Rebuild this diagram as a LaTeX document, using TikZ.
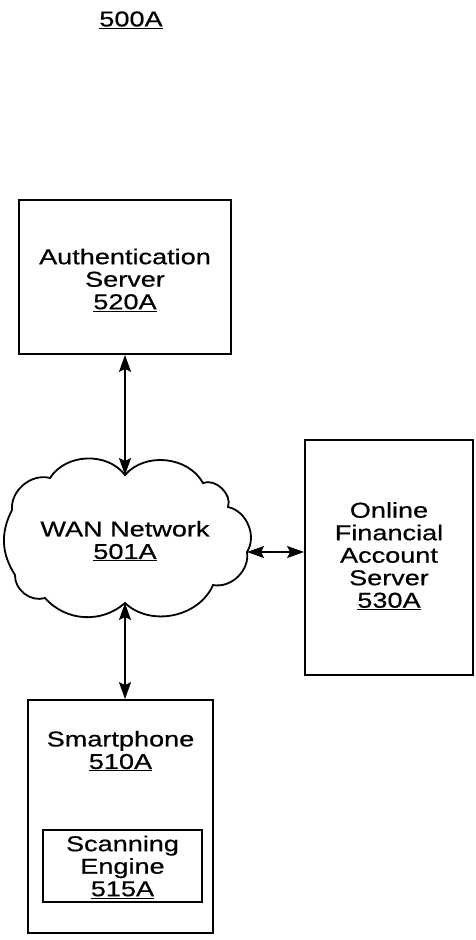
\documentclass[tikz,border=0pt]{standalone}
\usepackage{fontspec}
\setmainfont{Liberation Sans}[FakeStretch=1.26,FakeBold=0.6]
\usetikzlibrary{arrows.meta}
\tikzset{
  boxnode/.style={draw, line width=1.8pt, rectangle, inner sep=0pt},
  lbl/.style={align=center, inner sep=0pt, font=\fontsize{21.5}{22.5}\selectfont},
  tip/.tip={Stealth[length=17pt,width=12pt,inset=3pt]},
  arr/.style={line width=1.8pt, tip-tip},
  cloudline/.style={line width=1.8pt}
}
\begin{document}
\begin{tikzpicture}[x=1pt,y=-1pt]
\useasboundingbox (0,0) rectangle (476,940);
% title
\node[lbl] (title) at (131,20) {\underline{500A}};
% authentication server
\node[boxnode, minimum width=212pt, minimum height=154pt] (auth) at (125,277) {};
\node[lbl] (authtxt) at (125,280) {Authentication\\Server\\\underline{520A}};
% cloud
\coordinate (P1) at (125,475);
\coordinate (P2) at (203,483);
\coordinate (P3) at (228,507);
\coordinate (P4) at (247,552);
\coordinate (P5) at (213,585);
\coordinate (P6) at (125,603);
\coordinate (P7) at (45,598);
\coordinate (P8) at (15,575);
\coordinate (P9) at (12,510);
\coordinate (P10) at (50,478);
\draw[cloudline] (P1) to[bend left=55] (P2) to[bend left=65] (P3) to[bend left=55] (P4)
  to[bend left=55] (P5) to[bend left=55] (P6) to[bend left=45] (P7) to[bend left=55] (P8)
  to[bend left=30] (P9) to[bend left=55] (P10) to[bend left=55] (P1) -- cycle;
\node[lbl] (wan) at (125,541) {WAN Network\\\underline{501A}};
% online financial account server
\node[boxnode, minimum width=168pt, minimum height=235pt] (fin) at (389,557.5) {};
\node[lbl] (fintxt) at (389,556) {Online\\Financial\\Account\\Server\\\underline{530A}};
% smartphone
\node[boxnode, minimum width=185pt, minimum height=233pt] (phone) at (120.5,816.5) {};
\node[lbl] (phonetxt) at (120.5,751) {Smartphone\\\underline{510A}};
\node[boxnode, minimum width=159pt, minimum height=72pt] (scan) at (122.5,866) {};
\node[lbl] (scantxt) at (122.5,867) {Scanning\\Engine\\\underline{515A}};
% connectors
\draw[arr] (auth.south -| P1) -- (P1);
\draw[arr] (P4) -- (P4 -| fin.west);
\draw[arr] (P6) -- (P6 |- phone.north);
\end{tikzpicture}
\end{document}
